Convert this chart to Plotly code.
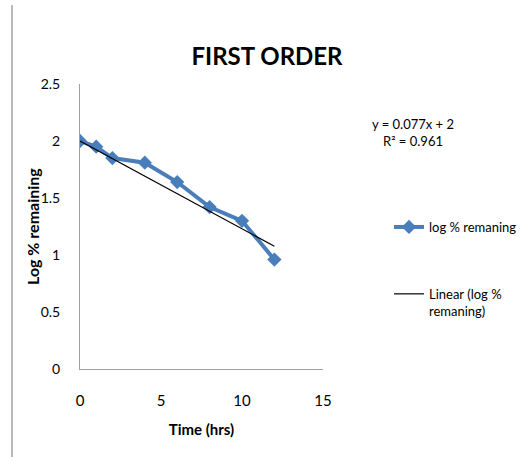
import plotly.graph_objects as go

time_hrs = [0, 1, 2, 4, 6, 8, 10, 12]
log_remaining = [2.0, 1.95, 1.85, 1.81, 1.64, 1.42, 1.30, 0.96]
trend_slope = -0.077
trend_intercept = 2.0
trend_x = [0, 12]
x_ticks = [0, 5, 10, 15]
y_ticks = [0, 0.5, 1, 1.5, 2, 2.5]

FONT = "Lato, Carlito, Calibri, sans-serif"
W, H = 526, 457

fig = go.Figure()
fig.add_trace(go.Scatter(
    x=time_hrs, y=log_remaining, mode="lines+markers",
    name="log % remaning", legendgroup="a",
    line=dict(color="#4a7ebb", width=4),
    marker=dict(symbol="diamond", size=11, color="#4a7ebb"),
))
fig.add_trace(go.Scatter(
    x=trend_x, y=[trend_intercept + trend_slope * v for v in trend_x],
    mode="lines", name="Linear (log %<br>remaning)", legendgroup="b",
    line=dict(color="#000000", width=1.2),
))

fig.update_layout(
    width=W, height=H,
    margin=dict(l=80, r=203, t=84, b=88, autoexpand=False),
    paper_bgcolor="white", plot_bgcolor="white",
    font=dict(family=FONT, size=14, color="#000000"),
    title=dict(text="<b>FIRST ORDER</b>", x=267 / W, xanchor="center",
               y=1 - 57 / H, yanchor="middle",
               font=dict(family=FONT, size=24, color="#000000")),
    showlegend=True,
    legend=dict(xref="container", yref="container",
                x=389 / W, y=1 - 212 / H, xanchor="left", yanchor="top",
                font=dict(family=FONT, size=13), valign="top",
                traceorder="grouped", tracegroupgap=47,
                bgcolor="rgba(0,0,0,0)"),
    xaxis=dict(range=[0, 15], tickvals=x_ticks, showgrid=False, zeroline=False,
               showline=True, linecolor="#a0a0a0", linewidth=1,
               ticks="", ticklabelstandoff=18, tickfont=dict(size=15),
               title=dict(text="<b>Time (hrs)</b>", standoff=16,
                          font=dict(family=FONT, size=15))),
    yaxis=dict(range=[0, 2.5], tickvals=y_ticks, showgrid=False, zeroline=False,
               showline=True, linecolor="#a0a0a0", linewidth=1,
               ticks="", ticklabelstandoff=16, tickfont=dict(size=14)),
)

# y-axis title
fig.add_annotation(
    xref="paper", yref="paper", x=(32 - 80) / 243, y=(369 - 227) / 285,
    text="<b>Log % remaining</b>", textangle=-90, showarrow=False,
    xanchor="center", yanchor="middle", font=dict(family=FONT, size=16),
)

# trendline equation
fig.add_annotation(
    xref="paper", yref="paper", x=(413 - 80) / 243, y=(369 - 132) / 285,
    text="y = 0.077x + 2<br>R² = 0.961", showarrow=False, align="center",
    xanchor="center", yanchor="middle", font=dict(family=FONT, size=13),
)

# frame line on the left
fig.add_shape(type="line", xref="paper", yref="paper",
              x0=(12 - 80) / 243, x1=(12 - 80) / 243,
              y0=(369 - 457) / 285, y1=(369 - 5) / 285,
              line=dict(color="#a0a0a0", width=1.5))

fig.write_html("out.html")
